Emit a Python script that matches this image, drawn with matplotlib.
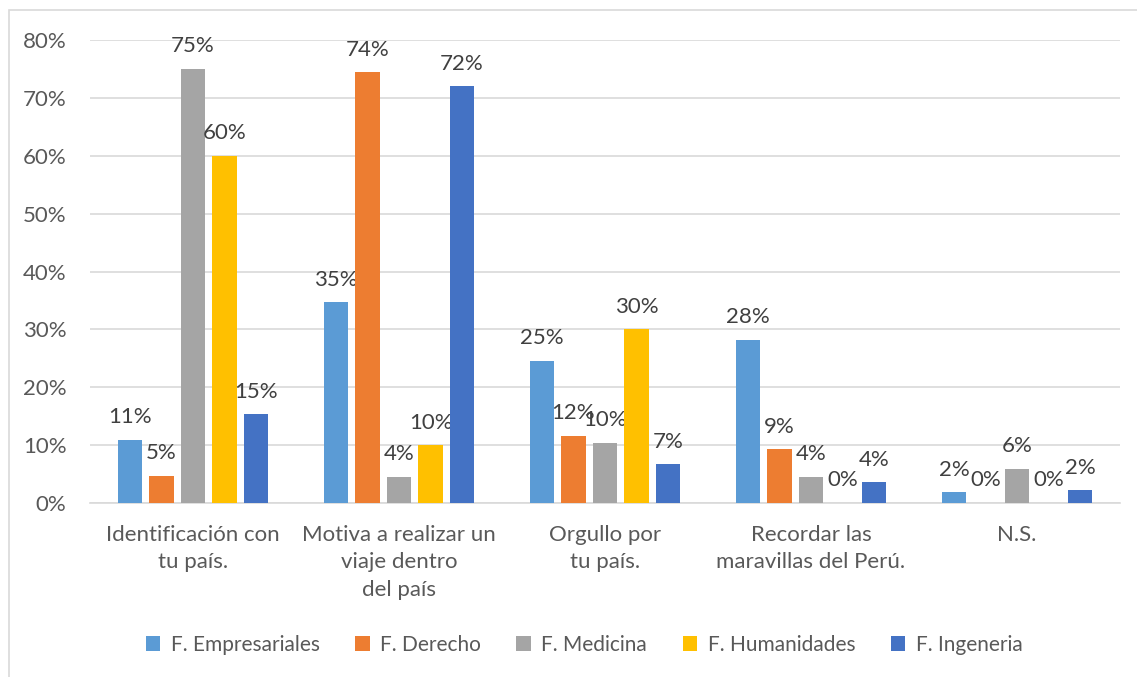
import matplotlib
matplotlib.use("Agg")
import matplotlib.pyplot as plt
import numpy as np
from matplotlib.patches import Rectangle

plt.rcParams['font.family'] = ['Lato', 'DejaVu Sans']

categories = ["Identificación con\ntu país.", "Motiva a realizar un\nviaje dentro\ndel país",
              "Orgullo por\ntu país.", "Recordar las\nmaravillas del Perú.", "N.S."]
series_names = ["F. Empresariales", "F. Derecho", "F. Medicina", "F. Humanidades", "F. Ingeneria"]
empresariales = [0.109, 0.347, 0.246, 0.282, 0.019]
derecho = [0.047, 0.744, 0.116, 0.093, 0.0]
medicina = [0.75, 0.045, 0.104, 0.045, 0.059]
humanidades = [0.60, 0.10, 0.30, 0.0, 0.0]
ingenieria = [0.153, 0.72, 0.067, 0.036, 0.022]
yticks = [0, 0.1, 0.2, 0.3, 0.4, 0.5, 0.6, 0.7, 0.8]

colors = ["#5B9BD5", "#ED7D31", "#A5A5A5", "#FFC000", "#4472C4"]
series = [empresariales, derecho, medicina, humanidades, ingenieria]

W, H = 1137, 677
fig = plt.figure(figsize=(W / 100, H / 100), dpi=100)
ax = fig.add_axes([90 / W, 1 - 503 / H, 1030 / W, 463 / H])

x = np.arange(len(categories))
slot = 0.153
bw = 0.121
for i, (vals, c, name) in enumerate(zip(series, colors, series_names)):
    pos = x + (i - 2) * slot
    bars = ax.bar(pos, vals, width=bw, color=c, label=name, zorder=3)
    for b, v in zip(bars, vals):
        ax.annotate(f"{round(v * 100):.0f}%", (b.get_x() + b.get_width() / 2, v),
                    xytext=(0, 9), textcoords="offset points", ha="center", va="bottom",
                    fontsize=16, color="#404040")

ax.set_xlim(-0.5, len(categories) - 0.5)
ax.set_ylim(0, 0.8)
ax.set_yticks(yticks)
ax.set_yticklabels([f"{round(t * 100)}%" for t in yticks])
ax.set_xticks(x)
ax.set_xticklabels(categories, linespacing=1.45)
ax.tick_params(axis='y', length=0, pad=17, labelsize=16, labelcolor="#595959")
ax.tick_params(axis='x', length=0, pad=16, labelsize=16, labelcolor="#595959")
ax.grid(axis='y', color="#D9D9D9", linewidth=1.2, zorder=0)
for s in ["top", "right", "left"]:
    ax.spines[s].set_visible(False)
ax.spines["bottom"].set_color("#D9D9D9")
ax.spines["bottom"].set_linewidth(1.2)

leg = fig.legend(loc="center", bbox_to_anchor=(584 / W, 1 - 645 / H), ncol=5, frameon=False,
                 fontsize=15, handlelength=0.7, handleheight=0.7, columnspacing=1.7,
                 handletextpad=0.5, labelcolor="#595959")

fig.patches.append(Rectangle((9 / W, -0.01), 1.1, 1 - 10 / H + 0.01, transform=fig.transFigure,
                             fill=False, edgecolor="#D9D9D9", linewidth=1.2))

fig.savefig("out.png", dpi=100, facecolor="white")
